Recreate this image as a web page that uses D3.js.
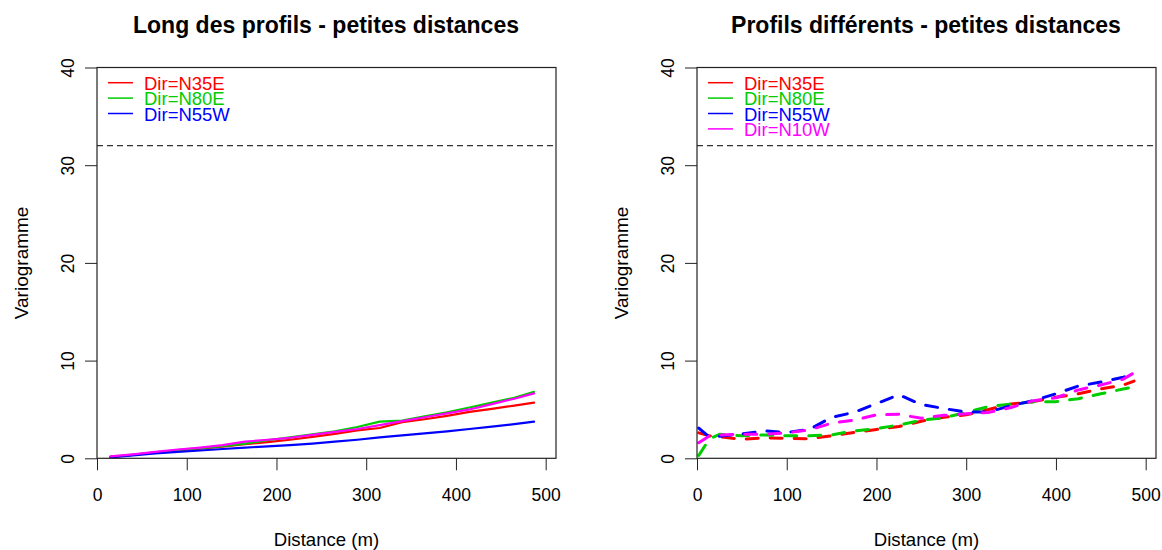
<!DOCTYPE html>
<html><head><meta charset="utf-8">
<script src="https://cdn.jsdelivr.net/npm/d3@7"></script>
<style>
body{margin:0;background:#fff}
svg{display:block}
text{font-family:"Liberation Sans",Arial,sans-serif;fill:#000}
</style>
</head><body>
<svg id="chart" width="1162" height="550"></svg>
<script>
// ---------- data ----------
const xTicks = [0, 100, 200, 300, 400, 500];
const yTicks = [0, 10, 20, 30, 40];
const sill = 32;

const leftTitle = "Long des profils - petites distances";
const rightTitle = "Profils différents - petites distances";
const xLabel = "Distance (m)";
const yLabel = "Variogramme";

const seriesColors = ["#ff0000", "#00cd00", "#0000ff", "#ff00ff"];
const leftLegend = ["Dir=N35E", "Dir=N80E", "Dir=N55W"];
const rightLegend = ["Dir=N35E", "Dir=N80E", "Dir=N55W", "Dir=N10W"];

// left panel (solid lines)
const leftDist = [15, 40, 65, 90, 115, 140, 165, 190, 215, 240, 265, 290, 315, 340, 365, 390, 415, 440, 465, 487];
const leftN35E = [0.15, 0.35, 0.6, 0.8, 1.0, 1.2, 1.45, 1.65, 1.9, 2.2, 2.5, 2.85, 3.1, 3.7, 4.0, 4.35, 4.75, 5.05, 5.4, 5.7];
const leftN80E = [0.15, 0.35, 0.6, 0.85, 1.05, 1.25, 1.5, 1.85, 2.15, 2.45, 2.75, 3.2, 3.75, 3.85, 4.3, 4.7, 5.2, 5.7, 6.2, 6.8];
const leftN55W = [0.1, 0.3, 0.5, 0.65, 0.8, 0.95, 1.1, 1.22, 1.35, 1.5, 1.7, 1.9, 2.15, 2.35, 2.55, 2.75, 3.0, 3.25, 3.5, 3.75];
const leftN10W = [0.2, 0.4, 0.65, 0.9, 1.1, 1.35, 1.7, 1.9, 2.1, 2.4, 2.7, 3.0, 3.4, 3.8, 4.2, 4.6, 5.0, 5.55, 6.1, 6.65];

// right panel (dashed lines)
const rightDist = [2, 14, 25, 50, 75, 100, 125, 150, 175, 200, 225, 250, 275, 300, 325, 350, 375, 400, 425, 450, 475, 487];
const rightN35E = [2.6, 2.3, 2.2, 1.95, 2.1, 2.05, 2.0, 2.3, 2.65, 2.95, 3.25, 3.8, 4.2, 4.45, 5.0, 5.55, 5.8, 6.25, 6.6, 7.1, 7.5, 7.9];
const rightN80E = [0.3, 2.0, 2.45, 2.3, 2.39, 2.3, 2.3, 2.4, 2.8, 3.05, 3.4, 3.9, 4.15, 4.7, 5.3, 5.55, 5.8, 5.8, 6.1, 6.6, 7.1, 7.3];
const rightN55W = [3.1, 2.15, 2.25, 2.5, 2.8, 2.65, 2.95, 4.2, 4.7, 5.6, 6.5, 5.5, 5.1, 4.72, 4.75, 5.4, 5.9, 6.6, 7.4, 7.8, 8.3, 8.6];
const rightN10W = [1.6, 2.3, 2.39, 2.45, 2.45, 2.6, 2.9, 3.6, 3.9, 4.45, 4.5, 4.1, 4.4, 4.55, 4.7, 5.2, 5.9, 6.2, 7.0, 7.5, 8.1, 8.75];

// ---------- drawing ----------
const svg = d3.select("#chart");
const FONT = '"Liberation Sans",Arial,sans-serif';

function panel(ox, title, dist, seriesList, legendLabels, dashed, clipId) {
  const left = 97 + ox, right = 556 + ox, top = 67.5, bottom = 458.3;
  const x = d3.scaleLinear().domain([0, 511.5]).range([left, right]);
  const y = d3.scaleLinear().domain([0, 40]).range([bottom, top]);
  const g = svg.append("g");

  g.append("clipPath").attr("id", clipId)
    .append("rect").attr("x", left).attr("y", top).attr("width", right - left).attr("height", bottom - top);

  // title
  g.append("text").attr("x", (left + right) / 2 - 0.5).attr("y", 32.7)
    .attr("text-anchor", "middle").style("font-size", "23px").style("font-weight", "bold")
    .text(title);

  // x axis
  const xa = g.append("g").attr("transform", `translate(0,${bottom})`)
    .call(d3.axisBottom(x).tickValues(xTicks).tickSize(12).tickFormat(d3.format("d")));
  xa.select(".domain").remove();
  xa.selectAll(".tick line").attr("stroke", "#222");
  xa.selectAll(".tick text").attr("y", 42.3).attr("dy", null)
    .style("font-size", "17.5px").style("font-family", FONT).attr("fill", "#000");

  // y axis
  const ya = g.append("g").attr("transform", `translate(${left},0)`)
    .call(d3.axisLeft(y).tickValues(yTicks).tickSize(12).tickFormat(d3.format("d")));
  ya.select(".domain").remove();
  ya.selectAll(".tick line").attr("stroke", "#222");
  ya.selectAll(".tick text").attr("x", null).attr("dy", null)
    .attr("transform", "translate(-23,0) rotate(-90)").attr("text-anchor", "middle")
    .style("font-size", "17.5px").style("font-family", FONT).attr("fill", "#000");

  // axis titles
  g.append("text").attr("x", (left + right) / 2).attr("y", 545.7)
    .attr("text-anchor", "middle").style("font-size", "18.6px").text(xLabel);
  g.append("text").attr("transform", `translate(${ox + 27.5},${(top + bottom) / 2}) rotate(-90)`)
    .attr("text-anchor", "middle").style("font-size", "19px").text(yLabel);

  // sill line
  g.append("line").attr("x1", left).attr("x2", right).attr("y1", y(sill)).attr("y2", y(sill))
    .attr("stroke", "#333").attr("stroke-width", 1.3).attr("stroke-dasharray", "6,4");

  // series
  const line = d3.line().x(d => x(d[0])).y(d => y(d[1]));
  const lines = g.append("g").attr("clip-path", `url(#${clipId})`);
  seriesList.forEach((vals, i) => {
    const pts = dist.map((d, j) => [d, vals[j]]);
    const p = lines.append("path").datum(pts).attr("d", line)
      .attr("fill", "none").attr("stroke", seriesColors[i])
      .attr("stroke-linecap", "round").attr("stroke-linejoin", "round");
    if (dashed) p.attr("stroke-width", 3).attr("stroke-dasharray", "12,12");
    else p.attr("stroke-width", 2.2);
  });

  // box
  g.append("rect").attr("x", left).attr("y", top).attr("width", right - left).attr("height", bottom - top)
    .attr("fill", "none").attr("stroke", "#222").attr("stroke-width", 1.2);

  // legend
  legendLabels.forEach((lab, i) => {
    const ly = 82.7 + i * 15.4;
    g.append("line").attr("x1", left + 11).attr("x2", left + 36).attr("y1", ly).attr("y2", ly)
      .attr("stroke", seriesColors[i]).attr("stroke-width", 1.5);
    g.append("text").attr("x", left + 47).attr("y", ly + 7.2)
      .style("font-size", "18.5px").attr("fill", seriesColors[i]).style("fill", seriesColors[i]).text(lab);
  });
}

panel(0, leftTitle, leftDist, [leftN35E, leftN80E, leftN55W, leftN10W], leftLegend, false, "clipL");
panel(600, rightTitle, rightDist, [rightN35E, rightN80E, rightN55W, rightN10W], rightLegend, true, "clipR");
</script>
</body></html>
